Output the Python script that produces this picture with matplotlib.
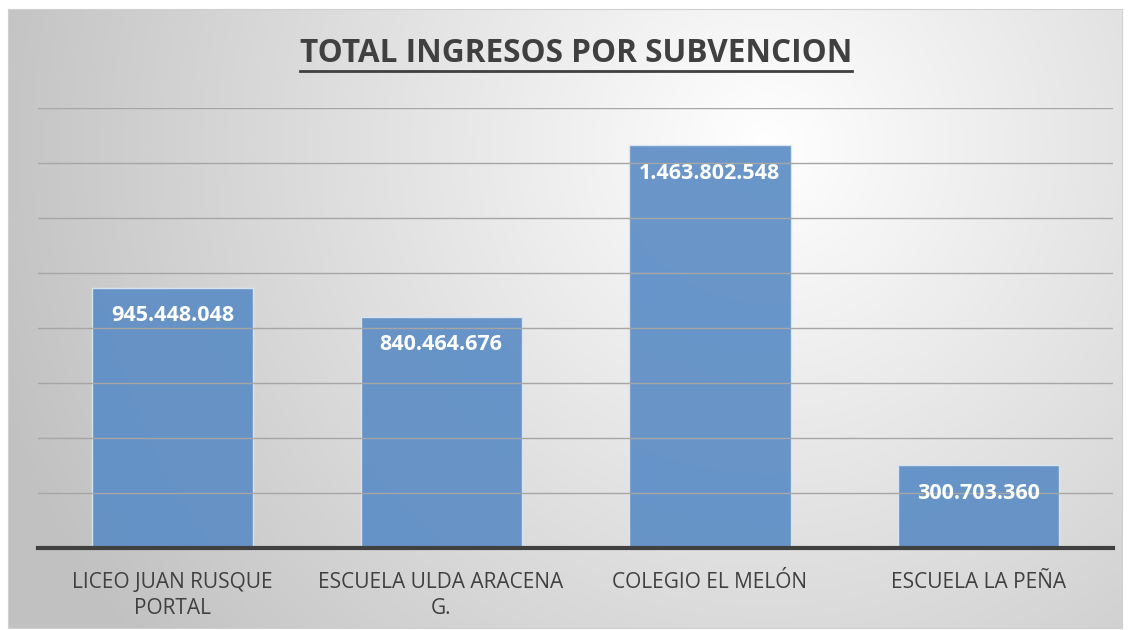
import numpy as np
import matplotlib
matplotlib.use('Agg')
import matplotlib.pyplot as plt

# Data
categories = ['LICEO JUAN RUSQUE\nPORTAL', 'ESCUELA ULDA ARACENA\nG.',
              'COLEGIO EL MELÓN', 'ESCUELA LA PEÑA']
values = [945448048, 840464676, 1463802548, 300703360]
value_labels = ['945.448.048', '840.464.676', '1.463.802.548', '300.703.360']
title = 'TOTAL INGRESOS POR SUBVENCION'

plt.rcParams['font.family'] = ['Open Sans', 'DejaVu Sans']
text_color = '#404040'

fig = plt.figure(figsize=(11.3, 6.3), dpi=100)
fig.patch.set_facecolor('white')

# background panel with radial gradient
bg = fig.add_axes([8 / 1130, 2 / 630, 1114 / 1130, 619 / 630])
h, w = 300, 540
yy, xx = np.mgrid[0:h, 0:w]
cx, cy = 0.68 * w, 0.22 * h
r = np.sqrt(((xx - cx) / w) ** 2 + ((yy - cy) / h * (h / w)) ** 2)
r = np.clip(r / 0.72, 0, 1)
shade = 1.0 - 0.24 * r
bg.imshow(np.dstack([shade] * 3), aspect='auto', extent=[0, 1, 0, 1], origin='upper')
bg.set_xticks([])
bg.set_yticks([])
for s in bg.spines.values():
    s.set_color('#d0d0d0')
    s.set_linewidth(0.8)

ax = fig.add_axes([38 / 1130, 82 / 630, 1075 / 1130, 440 / 630])
ax.patch.set_alpha(0)
x = np.arange(len(categories))
bars = ax.bar(x, values, width=0.6, color='#5e8ec6', alpha=0.93,
              edgecolor='#dde7f3', linewidth=1.0, zorder=2)
ax.set_xlim(-0.5, len(categories) - 0.5)
ax.set_ylim(0, 1600000000)
ax.set_yticks(np.arange(200000000, 1600000001, 200000000))
ax.yaxis.grid(True, color='#a6a6a6', linewidth=1.0, zorder=3)
ax.tick_params(axis='y', left=False, labelleft=False)
ax.set_axisbelow(False)
for s in ['top', 'right', 'left']:
    ax.spines[s].set_visible(False)
ax.spines['bottom'].set_color('#404040')
ax.spines['bottom'].set_linewidth(3)
ax.spines['bottom'].set_zorder(5)
ax.set_xticks(x)
ax.set_xticklabels(categories, fontsize=15, color=text_color, linespacing=1.35)
ax.tick_params(axis='x', length=0, pad=17)

for b, lab in zip(bars, value_labels):
    ax.annotate(lab, (b.get_x() + b.get_width() / 2, b.get_height()),
                xytext=(0, -20), textcoords='offset points', ha='center', va='center',
                color='white', fontsize=15.5, fontweight='bold', zorder=6)

t = fig.text(576 / 1130, 1 - 53 / 630, title, ha='center', va='center',
             fontsize=22.7, fontweight='bold', color=text_color)
fig.canvas.draw()
bb = t.get_window_extent().transformed(fig.transFigure.inverted())
uy = bb.y0 - 0.002
fig.add_artist(plt.Line2D([bb.x0, bb.x1], [uy, uy], transform=fig.transFigure,
                          color=text_color, linewidth=2))

fig.savefig('out.png', dpi=100)
